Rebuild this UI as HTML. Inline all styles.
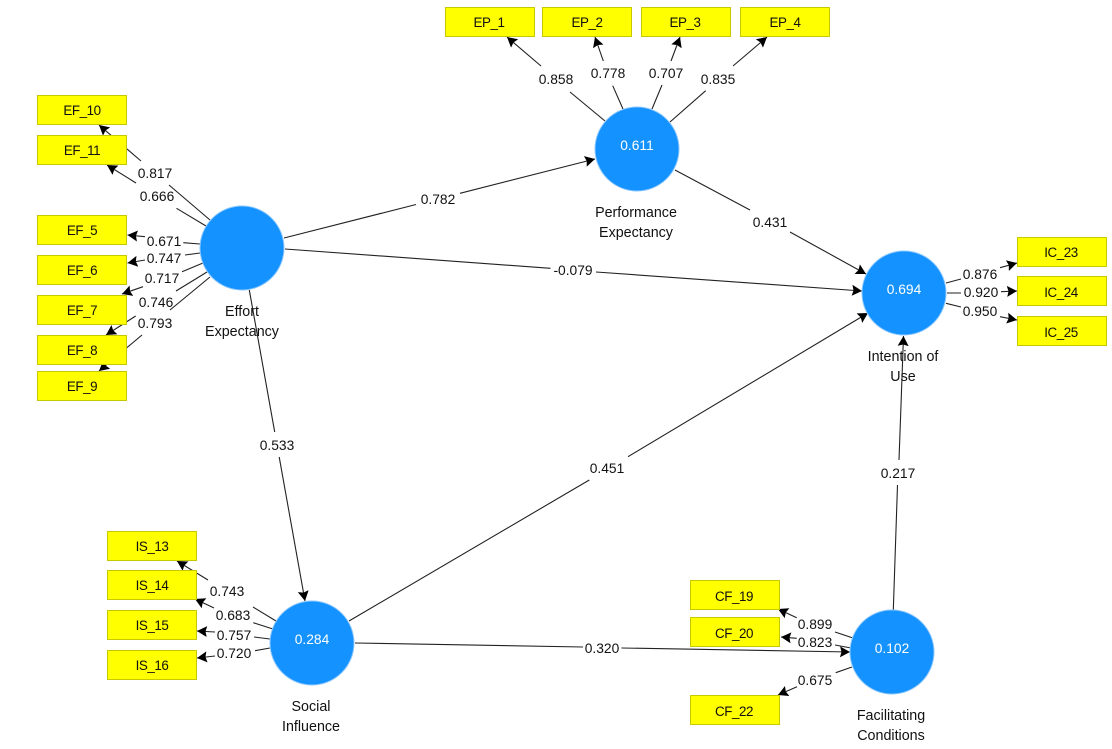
<!DOCTYPE html>
<html><head><meta charset="utf-8"><style>
html,body{margin:0;padding:0;background:#fff;width:1112px;height:749px;overflow:hidden}
svg{display:block}
text{font-family:"Liberation Sans",sans-serif;font-size:13.8px;fill:#111;text-anchor:middle}
.l path{fill:none;stroke:#222;stroke-width:1.1;marker-end:url(#a)}
.r rect{fill:#ffff00;stroke:#c8c800;stroke-width:1}
.c circle{fill:#1492ff;stroke:#8cc8ff;stroke-width:1}
.w text{fill:#fff}
.t text{letter-spacing:-.45px;font-size:13.4px}
.n text{font-size:14.3px}
</style></head><body>
<svg width="1112" height="749" viewBox="0 0 1112 749" xmlns="http://www.w3.org/2000/svg">
<defs><marker id="a" markerUnits="userSpaceOnUse" markerWidth="13" markerHeight="13" refX="10" refY="6" orient="auto"><path d="M0 .5 L10 6 L0 11.5 L1.5 6Z" fill="#000"/></marker></defs>
<g class="l">
<path d="M210 220L169 185M141 161L99 125"/>
<path d="M206 226L176.5 208.3M136 183L107 165"/>
<path d="M200 244L183.3 242.7M145 236.7L127.5 235"/>
<path d="M200 253L185 255M145 260L127.5 263"/>
<path d="M203 263L182 271.7M143 286.7L122 294"/>
<path d="M207 272L176 291M135.7 316L106 335"/>
<path d="M210 277L170 310M142 335L99 371"/>
<path d="M605 121L570 92M541 66L507 37"/>
<path d="M623 109L612.7 85.7M603.3 61L595 37"/>
<path d="M652 109L662 85M671 61L680 37"/>
<path d="M670 122L705.7 90.7M733 66L767 37"/>
<path d="M284 238L416 204.5M460 193.3L595 159"/>
<path d="M675 170L750 210M790 232L866 274"/>
<path d="M285 249L550.5 268.3M596 272L862 291"/>
<path d="M249.3 290L274.7 432M279.2 457L305 601"/>
<path d="M349 621L589.3 480M628 456.7L868 313"/>
<path d="M355 643L583 647M621.5 648L850 652"/>
<path d="M893.3 610L897.5 485M899 460L903.5 336"/>
<path d="M946 283L961 279M1000 267.7L1017 263"/>
<path d="M947 293L961 293M1001 291.7L1017 291"/>
<path d="M946 303.3L961 307M1000 316.7L1017 320"/>
<path d="M276 621L253 607M208 580L177 561"/>
<path d="M273 629L253.3 622.7M214 608L195 599"/>
<path d="M270 639L254 637M215 632L197 631"/>
<path d="M270 648L255 650.7M215 656L197 658"/>
<path d="M853 638L835 632M796.7 617.7L778 609"/>
<path d="M851 648L835 645M796.7 638.3L781 637"/>
<path d="M852 667L835.7 672.7M797 686.7L778 695"/>
</g>
<g class="r">
<rect x="37.5" y="95.5" width="89" height="29"/>
<rect x="37.5" y="135.5" width="89" height="29"/>
<rect x="37.5" y="215.5" width="89" height="29"/>
<rect x="37.5" y="255.5" width="89" height="29"/>
<rect x="37.5" y="295.5" width="89" height="29"/>
<rect x="37.5" y="335.5" width="89" height="29"/>
<rect x="37.5" y="371.5" width="89" height="29"/>
<rect x="445.5" y="7.5" width="89" height="29"/>
<rect x="542.5" y="7.5" width="89" height="29"/>
<rect x="641.5" y="7.5" width="89" height="29"/>
<rect x="740.5" y="7.5" width="89" height="29"/>
<rect x="1017.5" y="237.5" width="89" height="29"/>
<rect x="1017.5" y="276.5" width="89" height="29"/>
<rect x="1017.5" y="316.5" width="89" height="29"/>
<rect x="107.5" y="531.5" width="89" height="29"/>
<rect x="107.5" y="570.5" width="89" height="29"/>
<rect x="107.5" y="610.5" width="89" height="29"/>
<rect x="107.5" y="650.5" width="89" height="29"/>
<rect x="690.5" y="580.5" width="89" height="29"/>
<rect x="690.5" y="617.5" width="89" height="29"/>
<rect x="690.5" y="695.5" width="89" height="29"/>
</g>
<g class="c">
<circle cx="242" cy="248" r="42"/>
<circle cx="637" cy="149" r="42"/>
<circle cx="904" cy="293" r="42"/>
<circle cx="312" cy="643" r="42"/>
<circle cx="892" cy="652" r="42"/>
</g>
<g class="t">
<text x="82" y="115">EF_10</text>
<text x="82" y="155">EF_11</text>
<text x="82" y="235">EF_5</text>
<text x="82" y="275">EF_6</text>
<text x="82" y="315">EF_7</text>
<text x="82" y="355">EF_8</text>
<text x="82" y="391">EF_9</text>
<text x="489" y="27">EP_1</text>
<text x="587" y="27">EP_2</text>
<text x="685" y="27">EP_3</text>
<text x="785" y="27">EP_4</text>
<text x="1061" y="257">IC_23</text>
<text x="1061" y="297">IC_24</text>
<text x="1061" y="337">IC_25</text>
<text x="152" y="551">IS_13</text>
<text x="152" y="590">IS_14</text>
<text x="152" y="630">IS_15</text>
<text x="152" y="670">IS_16</text>
<text x="734" y="601">CF_19</text>
<text x="734" y="638">CF_20</text>
<text x="734" y="716">CF_22</text>
</g>
<g>
<text x="155" y="178">0.817</text>
<text x="157" y="201">0.666</text>
<text x="164" y="246">0.671</text>
<text x="164" y="263">0.747</text>
<text x="162" y="283">0.717</text>
<text x="156" y="307">0.746</text>
<text x="155" y="328">0.793</text>
<text x="556" y="84">0.858</text>
<text x="608" y="78">0.778</text>
<text x="666" y="78">0.707</text>
<text x="718" y="84">0.835</text>
<text x="438" y="204">0.782</text>
<text x="770" y="227">0.431</text>
<text x="573" y="275">-0.079</text>
<text x="277" y="450">0.533</text>
<text x="607" y="473">0.451</text>
<text x="602" y="653">0.320</text>
<text x="898" y="478">0.217</text>
<text x="980" y="279">0.876</text>
<text x="981" y="297">0.920</text>
<text x="980" y="316">0.950</text>
<text x="227" y="596">0.743</text>
<text x="233" y="620">0.683</text>
<text x="234" y="640">0.757</text>
<text x="234" y="658">0.720</text>
<text x="815" y="629">0.899</text>
<text x="815" y="647">0.823</text>
<text x="815" y="685">0.675</text>
</g>
<g class="n">
<text x="242" y="316">Effort</text>
<text x="242" y="336">Expectancy</text>
<text x="636" y="217">Performance</text>
<text x="636" y="237">Expectancy</text>
<text x="903" y="361">Intention of</text>
<text x="903" y="381">Use</text>
<text x="311" y="711">Social</text>
<text x="311" y="731">Influence</text>
<text x="891" y="720">Facilitating</text>
<text x="891" y="740">Conditions</text>
</g>
<g class="w">
<text x="637" y="150">0.611</text>
<text x="904" y="294">0.694</text>
<text x="312" y="644">0.284</text>
<text x="892" y="653">0.102</text>
</g>
</svg>
</body></html>
